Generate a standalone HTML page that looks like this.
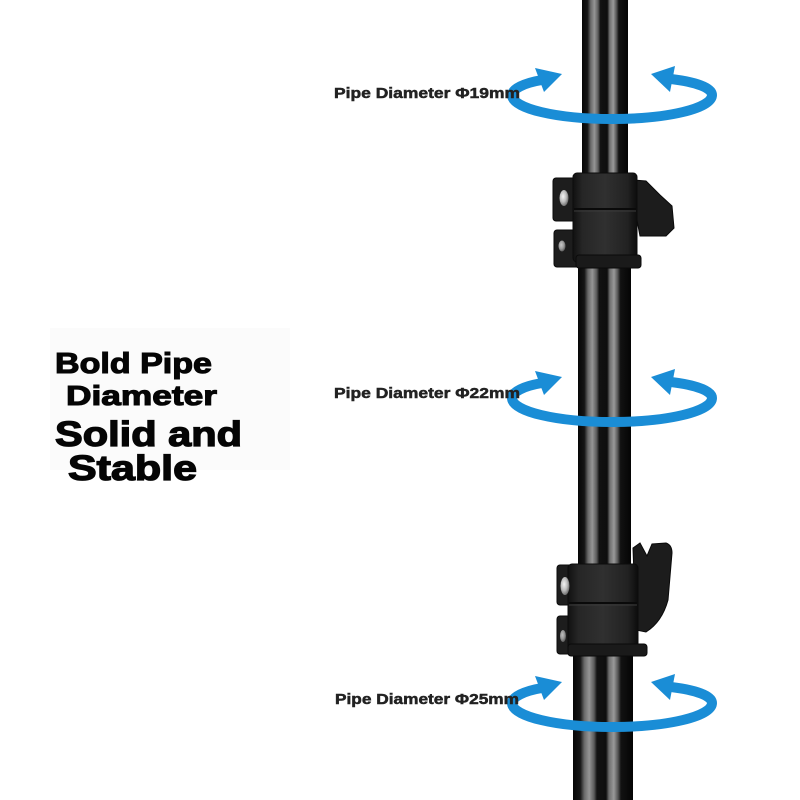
<!DOCTYPE html>
<html><head><meta charset="utf-8"><style>
html,body{margin:0;padding:0;background:#fff;}
svg{display:block;}
text{font-family:"Liberation Sans",Arial,sans-serif;font-weight:bold;}
</style></head><body>
<svg width="800" height="800" viewBox="0 0 800 800" xmlns="http://www.w3.org/2000/svg">
<defs>
<linearGradient id="pole" x1="0" y1="0" x2="1" y2="0">
<stop offset="0" stop-color="#060606"/>
<stop offset="0.12" stop-color="#151515"/>
<stop offset="0.19" stop-color="#6a6a6a"/>
<stop offset="0.27" stop-color="#959595"/>
<stop offset="0.35" stop-color="#5c5c5c"/>
<stop offset="0.40" stop-color="#121212"/>
<stop offset="0.55" stop-color="#0e0e0e"/>
<stop offset="0.60" stop-color="#6e6e6e"/>
<stop offset="0.68" stop-color="#999"/>
<stop offset="0.75" stop-color="#555"/>
<stop offset="0.80" stop-color="#121212"/>
<stop offset="1" stop-color="#040404"/>
</linearGradient>
<linearGradient id="clamp" x1="0" y1="0" x2="1" y2="0">
<stop offset="0" stop-color="#111"/>
<stop offset="0.15" stop-color="#262626"/>
<stop offset="0.5" stop-color="#303030"/>
<stop offset="0.85" stop-color="#222"/>
<stop offset="1" stop-color="#0c0c0c"/>
</linearGradient>
<radialGradient id="screw" cx="0.4" cy="0.4" r="0.7">
<stop offset="0" stop-color="#f4f4f4"/>
<stop offset="0.5" stop-color="#bdbdbd"/>
<stop offset="1" stop-color="#555"/>
</radialGradient>
<g id="ring">
<path d="M 542 -15 C 524 -12 512 -6 512 0 C 512 13.5 556.8 24 612 24 C 667.2 24 712 13.5 712 0 C 712 -7 696 -13 671 -16" fill="none" stroke="#1a8dd6" stroke-width="10" stroke-linecap="butt"/>
<polygon points="535,-27 562,-21 544,-3" fill="#1a8dd6"/>
<polygon points="651,-21 675,-29 670,-3" fill="#1a8dd6"/>
</g>
</defs>

<rect x="0" y="0" width="800" height="800" fill="#fff"/>
<rect x="50" y="328" width="240" height="142" fill="#fbfbfb"/>

<!-- poles -->
<rect x="582" y="0" width="46" height="185" fill="url(#pole)"/>
<rect x="578" y="255" width="53" height="320" fill="url(#pole)"/>
<rect x="573" y="645" width="60" height="155" fill="url(#pole)"/>

<!-- clamp 1 -->
<g>
<path d="M633,180 L646,181 L660,195 L672,206 L674,228 L666,236 L640,236 L636,215 Z" fill="#1c1c1c" stroke="#0a0a0a" stroke-width="1"/>
<rect x="553" y="178" width="26" height="43" rx="3" fill="#1d1d1d" stroke="#0a0a0a"/>
<rect x="554" y="230" width="25" height="37" rx="3" fill="#1d1d1d" stroke="#0a0a0a"/>
<rect x="573" y="173" width="64" height="89" rx="4" fill="url(#clamp)" stroke="#0c0c0c"/>
<rect x="576" y="255" width="65" height="13" rx="3" fill="#1a1a1a" stroke="#0a0a0a"/>
<line x1="574" y1="209" x2="636" y2="209" stroke="#0a0a0a" stroke-width="2"/>
<line x1="574" y1="211" x2="636" y2="211" stroke="#3a3a3a" stroke-width="1"/>
<ellipse cx="564" cy="198" rx="4.5" ry="8" fill="url(#screw)"/>
<ellipse cx="562" cy="246" rx="3.5" ry="5.5" fill="url(#screw)" opacity="0.8"/>
</g>

<!-- clamp 2 -->
<g>
<path d="M633,548 L640,543 L647,556 L652,544 L666,543 Q672,545 672,553 L668,600 Q662,622 646,632 L636,630 Z" fill="#1c1c1c" stroke="#0a0a0a" stroke-width="1"/>
<rect x="557" y="565" width="20" height="40" rx="3" fill="#1d1d1d" stroke="#0a0a0a"/>
<rect x="557" y="616" width="20" height="38" rx="3" fill="#1d1d1d" stroke="#0a0a0a"/>
<rect x="568" y="564" width="70" height="88" rx="4" fill="url(#clamp)" stroke="#0c0c0c"/>
<rect x="568" y="644" width="79" height="12" rx="3" fill="#1a1a1a" stroke="#0a0a0a"/>
<line x1="569" y1="603" x2="637" y2="603" stroke="#0a0a0a" stroke-width="2"/>
<line x1="569" y1="605" x2="637" y2="605" stroke="#3a3a3a" stroke-width="1"/>
<ellipse cx="565" cy="586" rx="4.5" ry="9" fill="url(#screw)"/>
<ellipse cx="563" cy="636" rx="3" ry="6" fill="url(#screw)" opacity="0.75"/>
</g>

<!-- rings -->
<use href="#ring" transform="translate(0,95)"/>
<use href="#ring" transform="translate(0,398)"/>
<use href="#ring" transform="translate(0,703)"/>

<!-- small labels -->
<text x="334" y="98" font-size="15" fill="#222" stroke="#222" stroke-width="0.5" textLength="186" lengthAdjust="spacingAndGlyphs">Pipe Diameter Φ19mm</text>
<text x="334" y="398" font-size="15" fill="#222" stroke="#222" stroke-width="0.5" textLength="186" lengthAdjust="spacingAndGlyphs">Pipe Diameter Φ22mm</text>
<text x="335" y="704" font-size="15" fill="#222" stroke="#222" stroke-width="0.5" textLength="184" lengthAdjust="spacingAndGlyphs">Pipe Diameter Φ25mm</text>

<!-- big text -->
<text x="55" y="373" font-size="29" fill="#050505" stroke="#050505" stroke-width="1.1" textLength="157" lengthAdjust="spacingAndGlyphs">Bold Pipe</text>
<text x="66" y="405" font-size="28" fill="#050505" stroke="#050505" stroke-width="1.1" textLength="151" lengthAdjust="spacingAndGlyphs">Diameter</text>
<text x="55" y="446" font-size="35" fill="#050505" stroke="#050505" stroke-width="1.3" textLength="187" lengthAdjust="spacingAndGlyphs">Solid and</text>
<text x="68" y="480" font-size="35" fill="#050505" stroke="#050505" stroke-width="1.3" textLength="129" lengthAdjust="spacingAndGlyphs">Stable</text>
</svg>
</body></html>
